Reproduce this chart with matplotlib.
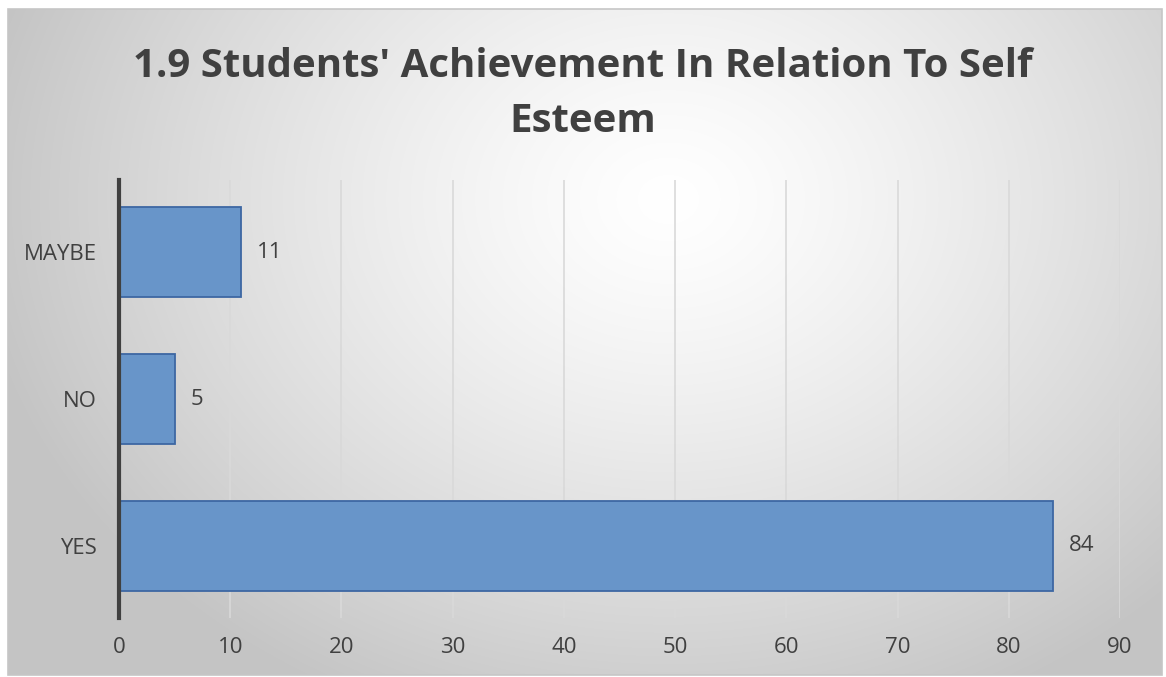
import numpy as np
import matplotlib.pyplot as plt
from matplotlib.patches import Rectangle

categories = ['YES', 'NO', 'MAYBE']
counts = [84, 5, 11]
x_ticks = [0, 10, 20, 30, 40, 50, 60, 70, 80, 90]
title = "1.9 Students' Achievement In Relation To Self\nEsteem"

plt.rcParams['font.family'] = ['Open Sans', 'DejaVu Sans']

W, H = 1166, 677
fig = plt.figure(figsize=(W / 100, H / 100), dpi=100)
fig.patch.set_facecolor('white')

# radial grey background for the chart panel
x0, y0, x1, y1 = 8, 9, 1162, 675
bg = fig.add_axes([x0 / W, 1 - y1 / H, (x1 - x0) / W, (y1 - y0) / H])
yy, xx = np.mgrid[0:y1 - y0, 0:x1 - x0]
dist = np.hypot((xx - 660) / 700.0, (yy - 190) / 560.0)
shade = 1.0 - 0.23 * np.clip(dist, 0, 1.0) ** 1.3
bg.imshow(np.dstack([shade] * 3), aspect='auto', interpolation='bilinear')
bg.set_axis_off()
fig.add_artist(Rectangle((x0 / W, 1 - y1 / H), (x1 - x0) / W, (y1 - y0) / H,
                         transform=fig.transFigure, fill=False,
                         edgecolor='#c6c6c6', linewidth=1.2))

ax = fig.add_axes([119 / W, 1 - 618 / H, (1120 - 119) / W, (618 - 180) / H])
ax.patch.set_alpha(0)

ypos = np.arange(len(categories))
bars = ax.barh(ypos, counts, height=0.61, color='#6895c9',
               edgecolor='#3d67a3', linewidth=1.3, zorder=3)
for b, v in zip(bars, counts):
    ax.text(v + 1.4, b.get_y() + b.get_height() / 2, str(v),
            va='center', ha='left', fontsize=16, color='#404040')

ax.set_xlim(0, 90)
ax.set_ylim(-0.49, 2.49)
ax.set_xticks(x_ticks)
ax.set_yticks(ypos)
ax.set_yticklabels(categories)
ax.tick_params(axis='both', length=0, labelsize=16, colors='#404040')
ax.tick_params(axis='x', pad=14)
ax.tick_params(axis='y', pad=16)
ax.grid(axis='x', color='#d9d9d9', linewidth=1.2, zorder=0)
for s in ['top', 'right', 'bottom']:
    ax.spines[s].set_visible(False)
ax.spines['left'].set_color('#404040')
ax.spines['left'].set_linewidth(3)
ax.spines['left'].set_zorder(4)

fig.text(583 / W, 1 - 94 / H, title, ha='center', va='center',
         fontsize=29, fontweight='bold', color='#404040', linespacing=1.55)

fig.savefig('out.png', dpi=100)
